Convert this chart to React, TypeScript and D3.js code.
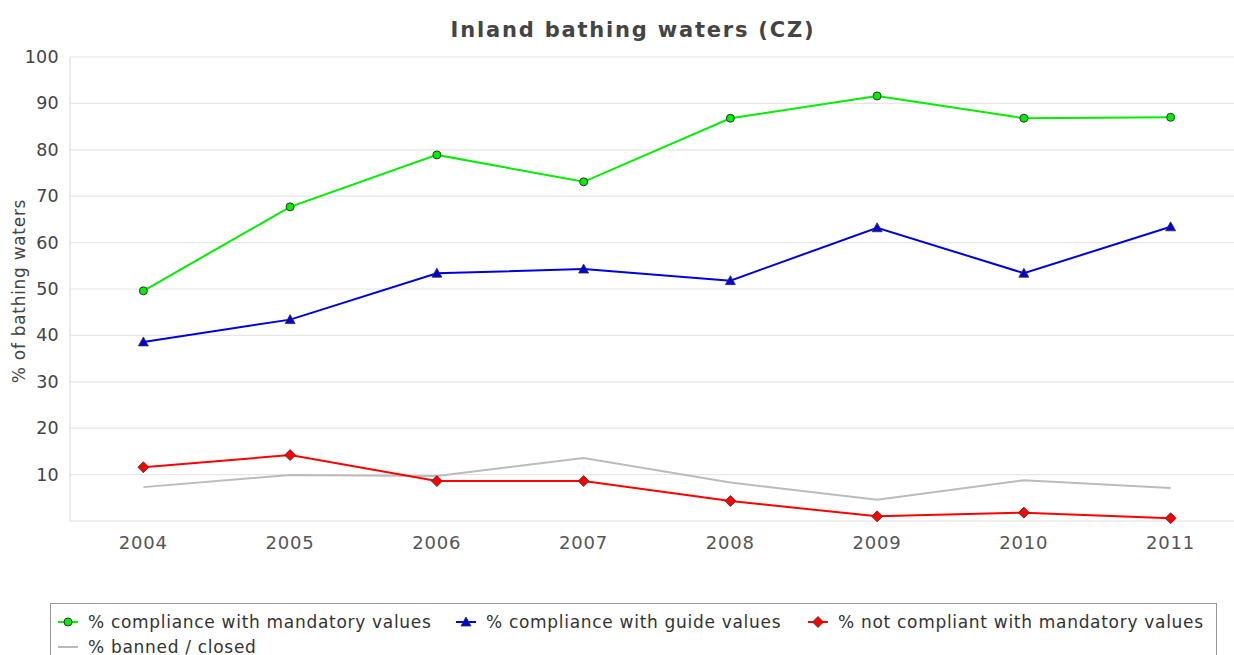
import React from 'react';
import * as d3 from 'd3';

// chart values
const years = ['2004', '2005', '2006', '2007', '2008', '2009', '2010', '2011'];
const mandatory = [49.6, 67.7, 78.9, 73.1, 86.8, 91.6, 86.8, 87.0];
const guide = [38.6, 43.4, 53.4, 54.3, 51.8, 63.2, 53.4, 63.4];
const notCompliant = [11.6, 14.2, 8.6, 8.6, 4.3, 1.0, 1.8, 0.6];
const banned = [7.3, 9.9, 9.7, 13.6, 8.3, 4.6, 8.8, 7.1];
const yTicks = [10, 20, 30, 40, 50, 60, 70, 80, 90, 100];

const seriesNames = [
  '% compliance with mandatory values',
  '% compliance with guide values',
  '% not compliant with mandatory values',
  '% banned / closed',
];

const W = 1234;
const H = 655;
const font = '"DejaVu Sans", sans-serif';

const Marker = ({kind, x, y, color}: {kind: string; x: number; y: number; color: string}) => {
  if (kind === 'circle') {
    return <circle cx={x} cy={y} r={4} fill={color} stroke="#333" strokeWidth={1} />;
  }
  if (kind === 'triangle') {
    return <path d={`M${x},${y - 5}L${x + 5},${y + 4}L${x - 5},${y + 4}Z`} fill={color} stroke="#333" strokeWidth={0.8} />;
  }
  if (kind === 'diamond') {
    return <path d={`M${x},${y - 5.5}L${x + 5.5},${y}L${x},${y + 5.5}L${x - 5.5},${y}Z`} fill={color} stroke="#333" strokeWidth={0.8} />;
  }
  return null;
};

export default function App() {
  const left = 70, right = 1244, top = 57, bottom = 521;

  const x = d3.scaleBand().domain(years).range([left, right]);
  const y = d3.scaleLinear().domain([0, 100]).range([bottom, top]);
  const cx = (yr: string) => (x(yr) as number) + x.bandwidth() / 2;

  const series = [
    {name: seriesNames[0], values: mandatory, color: '#00ee00', marker: 'circle'},
    {name: seriesNames[1], values: guide, color: '#0000dd', marker: 'triangle'},
    {name: seriesNames[2], values: notCompliant, color: '#ff0000', marker: 'diamond'},
    {name: seriesNames[3], values: banned, color: '#bbbbbb', marker: 'none'},
  ];
  // draw order: banned behind the others
  const drawOrder = [series[3], series[2], series[1], series[0]];

  const line = d3.line<number>()
    .x((d, i) => cx(years[i]))
    .y(d => y(d));

  const legendPos = [
    {x: 58, y: 622},
    {x: 456, y: 622},
    {x: 808, y: 622},
    {x: 58, y: 647},
  ];

  return (
    <svg width={W} height={H} style={{position: 'absolute', left: 0, top: 0, background: '#fff'}}>
      <text x={633} y={37} textAnchor="middle" fontFamily={font} fontWeight="bold" fontSize={21} fill="#444" letterSpacing={1.8}>
        Inland bathing waters (CZ)
      </text>

      {/* grid */}
      {yTicks.map(t => (
        <line key={t} x1={left} x2={W} y1={y(t)} y2={y(t)} stroke="#e6e6e6" strokeWidth={1.2} />
      ))}
      <line x1={left} x2={left} y1={top} y2={bottom} stroke="#dddddd" strokeWidth={1.2} />
      <line x1={left} x2={W} y1={bottom} y2={bottom} stroke="#dddddd" strokeWidth={1.2} />

      {yTicks.map(t => (
        <text key={t} x={59} y={y(t) + 6} textAnchor="end" fontFamily={font} fontSize={17.5} fill="#444" letterSpacing={0.3}>{t}</text>
      ))}
      {years.map(yr => (
        <text key={yr} x={cx(yr)} y={549} textAnchor="middle" fontFamily={font} fontSize={18} fill="#555" letterSpacing={0.8}>{yr}</text>
      ))}
      <text transform="translate(25,291) rotate(-90)" textAnchor="middle" fontFamily={font} fontSize={17} fill="#444" letterSpacing={0.7}>
        % of bathing waters
      </text>

      {drawOrder.map(s => (
        <g key={s.name}>
          <path d={line(s.values) || ''} fill="none" stroke={s.color} strokeWidth={2} />
          {s.values.map((v, i) => (
            <Marker key={i} kind={s.marker} x={cx(years[i])} y={y(v)} color={s.color} />
          ))}
        </g>
      ))}

      {/* legend */}
      <rect x={50.5} y={603.5} width={1166} height={70} fill="none" stroke="#999" strokeWidth={1} />
      {series.map((s, i) => {
        const p = legendPos[i];
        return (
          <g key={s.name}>
            <line x1={p.x} x2={p.x + 20} y1={p.y} y2={p.y} stroke={s.color} strokeWidth={2} />
            <Marker kind={s.marker} x={p.x + 10} y={p.y} color={s.color} />
            <text x={p.x + 30} y={p.y + 6} fontFamily={font} fontSize={17} fill="#333" letterSpacing={0.7}>{s.name}</text>
          </g>
        );
      })}
    </svg>
  );
}
